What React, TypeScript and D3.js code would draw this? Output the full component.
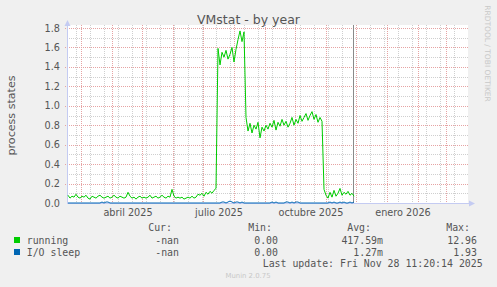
import React from "react";
import * as d3 from "d3";

const W = 497;
const H = 287;

const seriesStart = "2025-02-16";
const stepDays = 2;
const domainStart = "2025-02-15";
const domainEnd = "2026-03-23";
const nowDate = "2025-11-28";
const minorGridStart = "2025-02-24";

const runningValues = [
  0.08, 0.05, 0.07, 0.06, 0.09, 0.06, 0.05, 0.07, 0.06, 0.08, 0.05, 0.04, 0.07, 0.06, 0.05, 0.07, 0.08, 0.06, 0.05, 0.06,
  0.07, 0.05, 0.06, 0.08, 0.06, 0.05, 0.07, 0.06, 0.05, 0.06, 0.11, 0.07, 0.05, 0.06, 0.04, 0.06, 0.07, 0.05, 0.06, 0.05,
  0.06, 0.08, 0.05, 0.06, 0.07, 0.05, 0.06, 0.08, 0.06, 0.05, 0.07, 0.06, 0.14, 0.07, 0.05, 0.06, 0.05, 0.06, 0.04, 0.05,
  0.06, 0.05, 0.07, 0.05, 0.06, 0.09, 0.08, 0.10, 0.07, 0.11, 0.09, 0.12, 0.10, 0.13, 0.15,
  1.59, 1.42, 1.55, 1.50, 1.57, 1.48, 1.53, 1.60, 1.45, 1.58, 1.68, 1.77, 1.66, 1.76,
  0.88, 0.74, 0.82, 0.72, 0.80, 0.76, 0.83, 0.67, 0.78, 0.74, 0.80, 0.76, 0.82, 0.78, 0.85, 0.75, 0.83, 0.79, 0.86, 0.80,
  0.84, 0.78, 0.82, 0.88, 0.80, 0.86, 0.82, 0.90, 0.84, 0.88, 0.92, 0.85, 0.90, 0.94, 0.86, 0.91, 0.83, 0.88, 0.84,
  0.14, 0.08, 0.05, 0.11, 0.06, 0.13, 0.07, 0.10, 0.15, 0.08, 0.11, 0.09, 0.12, 0.08, 0.10, 0.07,
];

const ioSleepValues = [
  0, 0, 0, 0, 0, 0, 0, 0, 0, 0, 0, 0, 0, 0, 0, 0, 0,
  0.01, 0, 0.01, 0.01, 0,
  0, 0, 0, 0, 0, 0, 0, 0, 0, 0, 0, 0, 0, 0, 0, 0, 0, 0, 0, 0, 0, 0, 0, 0, 0, 0, 0,
  0, 0, 0, 0, 0, 0, 0, 0, 0, 0, 0, 0, 0, 0, 0, 0, 0, 0, 0, 0, 0, 0, 0, 0, 0, 0, 0, 0,
  0.01, 0.01, 0, 0.01, 0.02, 0.01, 0, 0.01, 0.01, 0, 0.01, 0,
  0, 0, 0, 0, 0, 0, 0, 0, 0, 0, 0, 0, 0,
  0.01, 0, 0.01, 0,
  0, 0, 0,
  0.01, 0.01, 0, 0.01, 0, 0.01, 0.01, 0,
  0, 0, 0, 0, 0, 0, 0, 0, 0, 0, 0, 0, 0, 0,
  0.01, 0, 0.01, 0, 0, 0.01, 0, 0.01, 0, 0, 0.01, 0, 0.01, 0, 0,
];

const yTicks = [0, 0.2, 0.4, 0.6, 0.8, 1.0, 1.2, 1.4, 1.6, 1.8];
const yMinorTicks = [0.1, 0.3, 0.5, 0.7, 0.9, 1.1, 1.3, 1.5, 1.7];
const xLabelDates = ["2025-04-01", "2025-07-01", "2025-10-01", "2026-01-01"];
const xLabels = ["abril 2025", "julio 2025", "octubre 2025", "enero 2026"];

const legendHeaders = ["Cur:", "Min:", "Avg:", "Max:"];
const seriesNames = ["running", "I/O sleep"];
const seriesColors = ["#00CC00", "#0066B3"];
const curValues = ["-nan", "-nan"];
const minValues = ["0.00", "0.00"];
const avgValues = ["417.59m", "1.27m"];
const maxValues = ["12.96", "1.93"];
const lastUpdate = "Last update: Fri Nov 28 11:20:14 2025";

const parse = d3.timeParse("%Y-%m-%d");

export default function App() {
  const x = d3
    .scaleTime()
    .domain([parse(domainStart)!, parse(domainEnd)!])
    .range([67, 468]);
  const y = d3.scaleLinear().domain([0, 1.8]).range([203, 28]);

  const start = parse(seriesStart)!;
  const dates = runningValues.map((_, i) => d3.timeDay.offset(start, i * stepDays));

  const line = d3
    .line<number>()
    .x((_, i) => x(dates[i]))
    .y((v) => y(v));

  const px = (v: number) => Math.round(v) + 0.5;
  const plotTop = 25;
  const plotBottom = 203;
  const plotLeft = 67;
  const plotRight = 468;

  const months = d3.timeMonth.range(parse(domainStart)!, parse(domainEnd)!);
  const minors = d3.timeDay.range(parse(minorGridStart)!, parse(domainEnd)!, 14);

  const axisFont = "DejaVu Sans, Verdana, sans-serif";
  const mono = "DejaVu Sans Mono, monospace";
  const textColor = "#555555";
  const minorColor = "#cfcfcf";
  const majorColor = "#e6a3a3";
  const axisColor = "#c4cbf2";

  const colRight = [172, 272, 371, 470];
  const valRight = [179, 278, 383, 477];
  const rowY = [240, 252];

  return (
    <svg
      width={W}
      height={H}
      style={{ position: "absolute", left: 0, top: 0, background: "#F0F0F0" }}
    >
      <rect x={0} y={0} width={W} height={H} fill="#F0F0F0" />
      <rect x={plotLeft} y={plotTop} width={plotRight - plotLeft} height={plotBottom - plotTop} fill="#FFFFFF" />

      {minors.map((d, i) => (
        <line key={"mv" + i} x1={px(x(d))} x2={px(x(d))} y1={plotTop} y2={plotBottom}
          stroke={minorColor} strokeWidth={1} strokeDasharray="1,1" />
      ))}
      {yMinorTicks.map((v, i) => (
        <line key={"mh" + i} x1={plotLeft} x2={plotRight} y1={px(y(v))} y2={px(y(v))}
          stroke={minorColor} strokeWidth={1} strokeDasharray="1,1" />
      ))}
      {months.map((d, i) => (
        <line key={"Mv" + i} x1={px(x(d))} x2={px(x(d))} y1={plotTop} y2={plotBottom + 2}
          stroke={majorColor} strokeWidth={1} strokeDasharray="1,1" />
      ))}
      {yTicks.filter((v) => v > 0).map((v, i) => (
        <line key={"Mh" + i} x1={plotLeft - 2} x2={plotRight} y1={px(y(v))} y2={px(y(v))}
          stroke={majorColor} strokeWidth={1} strokeDasharray="1,1" />
      ))}

      <line x1={plotLeft + 0.5} x2={plotLeft + 0.5} y1={plotBottom + 0.5} y2={plotTop - 2} stroke={axisColor} />
      <line x1={plotLeft} x2={plotRight + 3} y1={plotBottom + 0.5} y2={plotBottom + 0.5} stroke={axisColor} />
      <path d={`M${plotLeft - 2.5},${plotTop + 1} L${plotLeft + 0.5},${plotTop - 5} L${plotLeft + 3.5},${plotTop + 1} Z`} fill={axisColor} />
      <path d={`M${plotRight + 1},${plotBottom - 2.5} L${plotRight + 7},${plotBottom + 0.5} L${plotRight + 1},${plotBottom + 3.5} Z`} fill={axisColor} />

      <line x1={px(x(parse(nowDate)!))} x2={px(x(parse(nowDate)!))} y1={plotTop} y2={plotBottom}
        stroke="#8a8a8a" strokeWidth={1} />

      <path d={line(ioSleepValues) || ""} fill="none" stroke={seriesColors[1]} strokeWidth={1} />
      <path d={line(runningValues) || ""} fill="none" stroke={seriesColors[0]} strokeWidth={1} />

      {yTicks.map((v, i) => (
        <text key={"yl" + i} x={60} y={y(v)} textAnchor="end" dominantBaseline="central"
          fontFamily={axisFont} fontSize={9.7} fill={textColor}>
          {v.toFixed(1)}
        </text>
      ))}
      {xLabelDates.map((ds, i) => (
        <text key={"xl" + i} x={x(d3.timeDay.offset(parse(ds)!, 16))} y={212} textAnchor="middle"
          dominantBaseline="central" fontFamily={axisFont} fontSize={9.7} fill={textColor}>
          {xLabels[i]}
        </text>
      ))}

      <text x={248.5} y={24} textAnchor="middle" fontFamily={axisFont} fontSize={12.5} fill={textColor}>
        VMstat - by year
      </text>
      <text transform={`translate(11,115.5) rotate(-90)`} textAnchor="middle" dominantBaseline="central"
        fontFamily={axisFont} fontSize={11.1} fill={textColor}>
        process states
      </text>
      <text transform={`translate(487,53.5) rotate(90)`} textAnchor="middle" dominantBaseline="central"
        fontFamily={axisFont} fontSize={7.5} fill="#c8c8c8">
        RRDTOOL / TOBI OETIKER
      </text>

      {legendHeaders.map((h, i) => (
        <text key={"lh" + i} x={colRight[i]} y={227.3} textAnchor="end" dominantBaseline="central"
          fontFamily={mono} fontSize={9.9} fill={textColor}>
          {h}
        </text>
      ))}
      {seriesNames.map((name, r) => (
        <g key={"row" + r}>
          <rect x={14} y={rowY[r] - 3} width={6} height={6} fill={seriesColors[r]} />
          <text x={26.7} y={rowY[r]} dominantBaseline="central" fontFamily={mono} fontSize={9.9} fill={textColor}>
            {name}
          </text>
          {[curValues[r], minValues[r], avgValues[r], maxValues[r]].map((v, c) => (
            <text key={c} x={valRight[c]} y={rowY[r]} textAnchor="end" dominantBaseline="central"
              fontFamily={mono} fontSize={9.9} fill={textColor}>
              {v}
            </text>
          ))}
        </g>
      ))}
      <text x={482.7} y={263.3} textAnchor="end" dominantBaseline="central" fontFamily={mono} fontSize={9.9} fill={textColor}>
        {lastUpdate}
      </text>
      <text x={248} y={276} textAnchor="middle" dominantBaseline="central" fontFamily={axisFont} fontSize={6.9} fill="#c8c8c8">
        Munin 2.0.75
      </text>
    </svg>
  );
}
